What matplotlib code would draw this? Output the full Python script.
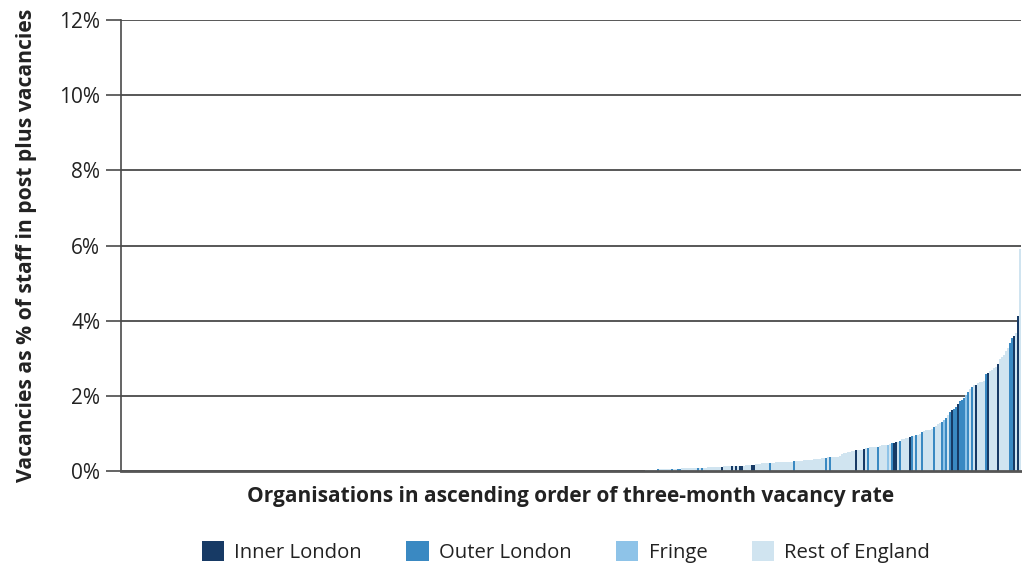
import matplotlib
matplotlib.use("Agg")
import matplotlib.pyplot as plt
from matplotlib.patches import Patch

# ---- data -------------------------------------------------------------
n_zero_orgs = 260  # organisations with a zero vacancy rate
nonzero_rates = [
    0.01, 0.01, 0.02, 0.02, 0.02, 0.03, 0.03, 0.03, 0.04, 0.04,
    0.04, 0.05, 0.05, 0.05, 0.05, 0.06, 0.06, 0.06, 0.06, 0.06,
    0.07, 0.07, 0.07, 0.07, 0.08, 0.08, 0.08, 0.08, 0.08, 0.09,
    0.09, 0.09, 0.09, 0.10, 0.10, 0.10, 0.10, 0.11, 0.11, 0.11,
    0.11, 0.12, 0.12, 0.12, 0.12, 0.13, 0.13, 0.13, 0.13, 0.14,
    0.14, 0.14, 0.15, 0.15, 0.15, 0.16, 0.17, 0.18, 0.19, 0.19,
    0.20, 0.20, 0.21, 0.21, 0.22, 0.22, 0.22, 0.23, 0.23, 0.23,
    0.24, 0.24, 0.24, 0.25, 0.25, 0.25, 0.26, 0.26, 0.26, 0.27,
    0.27, 0.28, 0.28, 0.29, 0.30, 0.30, 0.31, 0.32, 0.32, 0.33,
    0.34, 0.34, 0.35, 0.36, 0.36, 0.36, 0.36, 0.36, 0.37, 0.40,
    0.45, 0.48, 0.49, 0.50, 0.50, 0.52, 0.54, 0.55, 0.56, 0.56,
    0.57, 0.58, 0.60, 0.62, 0.63, 0.63, 0.64, 0.64, 0.65, 0.67,
    0.68, 0.69, 0.69, 0.70, 0.72, 0.74, 0.75, 0.76, 0.77, 0.80,
    0.85, 0.86, 0.87, 0.88, 0.90, 0.92, 0.94, 0.96, 0.97, 0.99,
    1.03, 1.06, 1.08, 1.09, 1.10, 1.12, 1.17, 1.20, 1.26, 1.29,
    1.31, 1.35, 1.40, 1.48, 1.58, 1.62, 1.64, 1.70, 1.78, 1.85,
    1.90, 1.95, 2.02, 2.10, 2.17, 2.24, 2.28, 2.30, 2.34, 2.36,
    2.37, 2.39, 2.58, 2.61, 2.65, 2.70, 2.74, 2.78, 2.86, 2.98,
    3.02, 3.08, 3.18, 3.26, 3.40, 3.55, 3.60, 3.67, 4.12, 5.90,
]
# region code of each non-zero organisation: I inner, O outer, F fringe, R rest
nonzero_regions = (
    "RRRRRRRROR" "RRRRRORROO" "RRRRRRRROR" "ORRRRRRRRR" "IRRRRIRIRI"
    "IRRRRIIRRR" "RRRRORRRRR" "RRRRRRORRR" "RRRRRRRRRR" "RRORORRRRR"
    "RRRRRRRIRR" "RIRORRRROR" "RRRFROIIRO" "RRRRIORORR" "ORRRRRORRR"
    "OFOROIOOIO" "OOFORORIRR" "RROIRRRRIR" "RRRROOIRIR"
)
region_names = ["Inner London", "Outer London", "Fringe", "Rest of England"]
region_codes = ["I", "O", "F", "R"]
y_ticks = [0, 2, 4, 6, 8, 10, 12]
y_tick_labels = ["0%", "2%", "4%", "6%", "8%", "10%", "12%"]

# ---- styling ----------------------------------------------------------
colors = {"I": "#173a65", "O": "#3a89c2", "F": "#8ec3e8", "R": "#d0e4f0"}
FONT = ["Open Sans", "DejaVu Sans"]
plt.rcParams["font.family"] = FONT

rates = [0.0] * n_zero_orgs + nonzero_rates
regions = ["R"] * n_zero_orgs + list(nonzero_regions)
x = list(range(len(rates)))

fig = plt.figure(figsize=(10.22, 5.66), dpi=100)
ax = fig.add_axes([121 / 1022, 1 - 471 / 566, 900 / 1022, (471 - 20) / 566])

ax.bar(x, rates, width=1.0, align="edge",
       color=[colors[r] for r in regions], linewidth=0, zorder=3)

ax.set_xlim(0, len(rates))
ax.set_ylim(0, 12)
ax.set_yticks(y_ticks)
ax.set_yticklabels(y_tick_labels, fontsize=15)
ax.set_xticks([])
ax.yaxis.grid(True, color="#4a4a4a", linewidth=1.3, zorder=0)
ax.set_axisbelow(True)
ax.tick_params(axis="y", length=11, width=1.2, color="#4a4a4a", pad=4,
               labelcolor="#222222")

for s in ["top", "right"]:
    ax.spines[s].set_visible(False)
ax.spines["left"].set_color("#4a4a4a")
ax.spines["left"].set_linewidth(1.2)
ax.spines["bottom"].set_color("#555555")
ax.spines["bottom"].set_linewidth(2.0)
ax.spines["bottom"].set_zorder(4)

ax.set_ylabel("Vacancies as % of staff in post plus vacancies",
              fontsize=15.2, fontweight="bold", color="#222222", labelpad=16)
ax.set_xlabel("Organisations in ascending order of three-month vacancy rate",
              fontsize=15.0, fontweight="bold", color="#222222", labelpad=11)

handles = [Patch(facecolor=colors[c], edgecolor="none") for c in region_codes]
fig.legend(handles, region_names, loc="center", bbox_to_anchor=(566 / 1022, 1 - 552 / 566),
           ncol=4, frameon=False, fontsize=14.6, handlelength=1.1, handleheight=1.1,
           columnspacing=2.2, handletextpad=0.5, labelcolor="#222222")

fig.savefig("out.png", dpi=100)
